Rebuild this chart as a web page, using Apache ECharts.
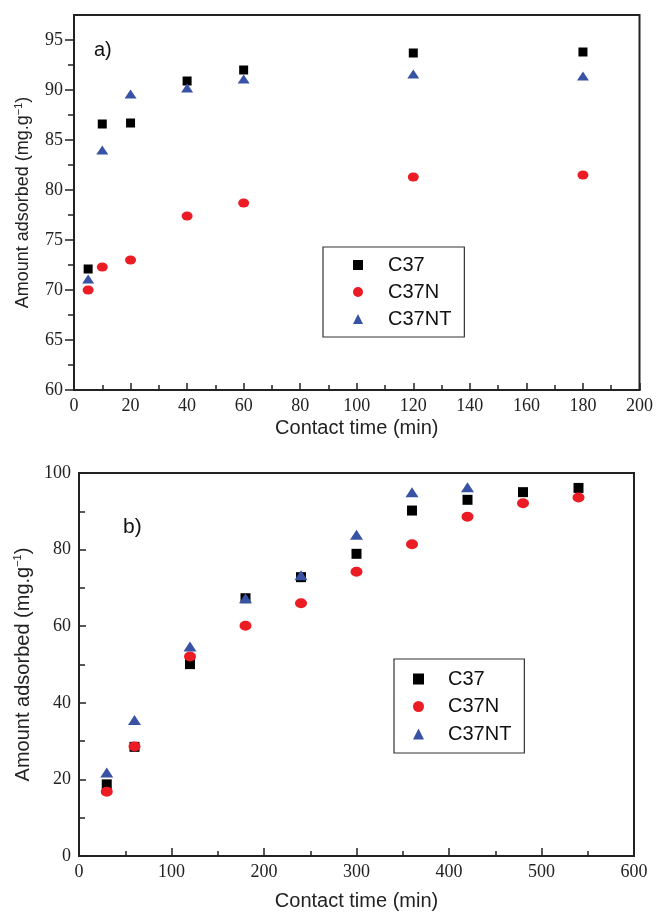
<!DOCTYPE html>
<html>
<head>
<meta charset="utf-8">
<script src="https://cdn.jsdelivr.net/npm/echarts@6/dist/echarts.min.js"></script>
<style>html,body{margin:0;padding:0;background:#fff}#c{width:656px;height:915px}</style>
</head>
<body>
<div id="c"></div>
<script>
// ---- Data: panel a) ----
const timeA = [5, 10, 20, 40, 60, 120, 180];
const c37A = [72.1, 86.6, 86.7, 90.9, 92.0, 93.7, 93.8];
const c37nA = [70.0, 72.3, 73.0, 77.4, 78.7, 81.3, 81.5];
const c37ntA = [71.1, 84.0, 89.6, 90.2, 91.1, 91.6, 91.4];
const yMajorA = [60, 65, 70, 75, 80, 85, 90, 95];
const yMinorA = [62.5, 67.5, 72.5, 77.5, 82.5, 87.5, 92.5];
// ---- Data: panel b) ----
const timeB = [30, 60, 120, 180, 240, 300, 360, 420, 480, 540];
const c37B = [18.7, 28.5, 50.1, 67.3, 72.8, 78.9, 90.2, 93.0, 95.0, 96.1];
const c37nB = [16.8, 28.6, 52.1, 60.1, 66.0, 74.2, 81.4, 88.6, 92.1, 93.6];
const timeBnt = [30, 60, 120, 180, 240, 300, 360, 420];
const c37ntB = [21.8, 35.5, 54.7, 67.3, 73.3, 83.9, 95.0, 96.3];
const seriesNames = ['C37', 'C37N', 'C37NT'];
const panelLabels = ['a)', 'b)'];

const zip = (xs, ys) => xs.map((x, i) => [x, ys[i]]);
const BLACK = '#000000', RED = '#ec1c24', BLUE = '#3853a4';
const serif = 'Liberation Serif', sans = 'Liberation Sans';
const axisCol = '#222';

const labelStyle = {fontFamily: serif, fontSize: 18, color: axisCol};
const yName = 'Amount adsorbed (mg.g{sup|−1})';
const nameRich = () => ({sup: {fontFamily: sans, fontSize: 11, color: axisCol, verticalAlign: 'top', padding: [0, 0, 10, 0]}});

const chart = echarts.init(document.getElementById('c'), null, {renderer: 'canvas'});
chart.setOption({
  animation: false,
  backgroundColor: '#fff',
  grid: [
    {left: 74, top: 15, width: 568, height: 375, show: true, borderColor: axisCol, borderWidth: 2, backgroundColor: 'transparent'},
    {left: 79, top: 473, width: 555, height: 383, show: true, borderColor: axisCol, borderWidth: 2, backgroundColor: 'transparent'}
  ],
  xAxis: [
    {type: 'value', gridIndex: 0, min: 0, max: 200, interval: 20,
     name: 'Contact time (min)', nameLocation: 'middle', nameGap: 28,
     nameTextStyle: {fontFamily: sans, fontSize: 20, color: axisCol},
     axisLine: {show: true, lineStyle: {color: axisCol, width: 2}},
     axisTick: {show: true, inside: true, length: 7, lineStyle: {color: axisCol, width: 1.5}},
     minorTick: {show: true, splitNumber: 2, length: 5, lineStyle: {color: axisCol, width: 1.5}},
     axisLabel: Object.assign({margin: 7}, labelStyle),
     splitLine: {show: false}},
    {type: 'value', gridIndex: 1, min: 0, max: 600, interval: 100,
     name: 'Contact time (min)', nameLocation: 'middle', nameGap: 35,
     nameTextStyle: {fontFamily: sans, fontSize: 20, color: axisCol},
     axisLine: {show: true, lineStyle: {color: axisCol, width: 2}},
     axisTick: {show: true, inside: true, length: 8, lineStyle: {color: axisCol, width: 1.5}},
     minorTick: {show: true, splitNumber: 2, length: 5, lineStyle: {color: axisCol, width: 1.5}},
     axisLabel: Object.assign({margin: 7}, labelStyle),
     splitLine: {show: false}}
  ],
  yAxis: [
    {type: 'value', gridIndex: 0, min: 60, max: 97.5, interval: 5,
     name: yName, nameLocation: 'middle', nameGap: 40,
     nameTextStyle: {fontFamily: sans, fontSize: 18, color: axisCol, rich: nameRich()},
     axisLine: {show: true, lineStyle: {color: axisCol, width: 2}},
     axisTick: {show: true, inside: false, length: 9, customValues: yMajorA, lineStyle: {color: axisCol, width: 1.5}},
     axisLabel: Object.assign({margin: 11, customValues: yMajorA, formatter: v => (v % 5 === 0 ? String(v) : '')}, labelStyle),
     splitLine: {show: false}},
    {type: 'value', gridIndex: 0, min: 60, max: 97.5, interval: 5, position: 'left',
     axisLine: {show: false},
     axisTick: {show: true, inside: false, length: 6, customValues: yMinorA, lineStyle: {color: axisCol, width: 1.5}},
     axisLabel: {show: false},
     splitLine: {show: false}},
    {type: 'value', gridIndex: 1, min: 0, max: 100, interval: 20,
     name: yName, nameLocation: 'middle', nameGap: 40,
     nameTextStyle: {fontFamily: sans, fontSize: 20, color: axisCol, rich: nameRich()},
     axisLine: {show: true, lineStyle: {color: axisCol, width: 2}},
     axisTick: {show: true, inside: true, length: 7, lineStyle: {color: axisCol, width: 1.5}},
     minorTick: {show: true, splitNumber: 2, length: 6, lineStyle: {color: axisCol, width: 1.5}},
     axisLabel: Object.assign({margin: 8}, labelStyle),
     splitLine: {show: false}}
  ],
  legend: [
    {orient: 'vertical', left: 323, top: 247, data: seriesNames,
     itemWidth: 10, itemHeight: 10, itemGap: 7,
     padding: [8, 13, 8, 30],
     borderColor: '#333', borderWidth: 1.2, backgroundColor: '#fff',
     textStyle: {fontFamily: sans, fontSize: 20, color: '#111', lineHeight: 14, padding: [0, 0, 0, 20]}},
    {orient: 'vertical', left: 394, top: 659, data: seriesNames,
     itemWidth: 11, itemHeight: 11, itemGap: 7.5,
     padding: [10, 13, 9, 19],
     borderColor: '#333', borderWidth: 1.2, backgroundColor: '#fff',
     textStyle: {fontFamily: sans, fontSize: 20, color: '#111', lineHeight: 15, padding: [0, 0, 0, 19]}}
  ],
  graphic: [
    {type: 'text', left: 94, top: 40, style: {text: panelLabels[0], font: '20px "Liberation Sans"', fill: '#111'}},
    {type: 'text', left: 123, top: 517, style: {text: panelLabels[1], font: '21px "Liberation Sans"', fill: '#111'}}
  ],
  series: [
    {name: seriesNames[0], type: 'scatter', xAxisIndex: 0, yAxisIndex: 0, symbol: 'rect', symbolSize: 9, itemStyle: {color: BLACK, opacity: 1}, data: zip(timeA, c37A)},
    {name: seriesNames[1], type: 'scatter', xAxisIndex: 0, yAxisIndex: 0, symbol: 'circle', symbolSize: [11, 9], itemStyle: {color: RED, opacity: 1}, data: zip(timeA, c37nA)},
    {name: seriesNames[2], type: 'scatter', xAxisIndex: 0, yAxisIndex: 0, symbol: 'triangle', symbolSize: [12, 9], itemStyle: {color: BLUE, opacity: 1}, data: zip(timeA, c37ntA)},
    {name: seriesNames[0], type: 'scatter', xAxisIndex: 1, yAxisIndex: 2, symbol: 'rect', symbolSize: 10, itemStyle: {color: BLACK, opacity: 1}, data: zip(timeB, c37B)},
    {name: seriesNames[1], type: 'scatter', xAxisIndex: 1, yAxisIndex: 2, symbol: 'circle', symbolSize: [12, 10], itemStyle: {color: RED, opacity: 1}, data: zip(timeB, c37nB)},
    {name: seriesNames[2], type: 'scatter', xAxisIndex: 1, yAxisIndex: 2, symbol: 'triangle', symbolSize: [13, 10], itemStyle: {color: BLUE, opacity: 1}, data: zip(timeBnt, c37ntB)}
  ]
});
</script>
</body>
</html>
